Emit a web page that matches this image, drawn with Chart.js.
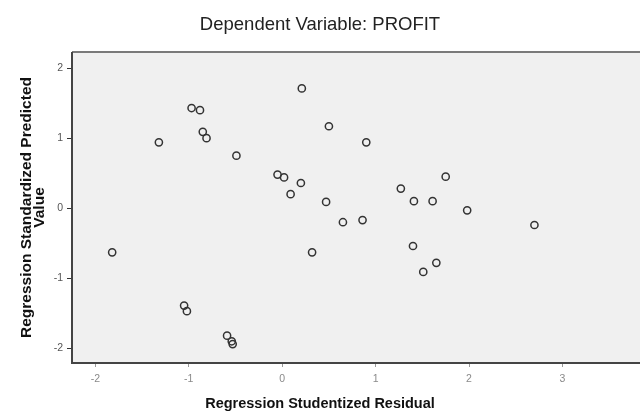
<!DOCTYPE html>
<html>
<head>
<meta charset="utf-8">
<script src="https://cdn.jsdelivr.net/npm/chart.js@4/dist/chart.umd.min.js"></script>
<style>
  html, body { margin: 0; padding: 0; background: #ffffff; }
  #wrap { position: relative; width: 640px; height: 415px; }
</style>
</head>
<body>
<div id="wrap"><canvas id="c" width="640" height="415"></canvas></div>
<script>
// Regression Studentized Residual (x) and Regression Standardized Predicted Value (y)
const residual = [
  0.21, 0.50, -0.97, -0.88, -1.32, -0.85, -0.81, -0.49,
  -0.05, 0.02, 0.20, 0.09, 0.47, 0.90, 1.75, 1.27,
  1.41, 1.61, 1.98, 0.86, 0.65, 2.70, 1.40, 1.65,
  1.51, -1.82, 0.32, -1.05, -1.02, -0.59, -0.54, -0.53
];
const predicted = [
  1.71, 1.17, 1.43, 1.40, 0.94, 1.09, 1.00, 0.75,
  0.48, 0.44, 0.36, 0.20, 0.09, 0.94, 0.45, 0.28,
  0.10, 0.10, -0.03, -0.17, -0.20, -0.24, -0.54, -0.78,
  -0.91, -0.63, -0.63, -1.39, -1.47, -1.82, -1.90, -1.94
];
const xTicks = [-2, -1, 0, 1, 2, 3];
const yTicks = [-2, -1, 0, 1, 2];
const chartTitle = 'Dependent Variable: PROFIT';
const xTitle = 'Regression Studentized Residual';
const yTitle = ['Regression Standardized Predicted', 'Value'];

const points = residual.map((x, i) => ({ x: x, y: predicted[i] }));

const plotFrame = {
  id: 'plotFrame',
  beforeDatasetsDraw(chart) {
    const { ctx, chartArea: a } = chart;
    ctx.save();
    ctx.fillStyle = '#f0f0f0';
    ctx.fillRect(a.left, a.top, a.right - a.left, a.bottom - a.top);
    ctx.strokeStyle = '#7a7a7a';
    ctx.lineWidth = 2;
    ctx.beginPath();
    ctx.moveTo(a.left, a.top);
    ctx.lineTo(a.right, a.top);
    ctx.stroke();
    ctx.strokeStyle = '#444444';
    ctx.beginPath();
    ctx.moveTo(a.left, a.top);
    ctx.lineTo(a.left, a.bottom);
    ctx.lineTo(a.right, a.bottom);
    ctx.stroke();
    ctx.restore();
  }
};

new Chart(document.getElementById('c'), {
  type: 'scatter',
  data: {
    datasets: [{
      data: points,
      pointStyle: 'circle',
      pointRadius: 3.6,
      pointHoverRadius: 3.6,
      pointBorderWidth: 1.5,
      pointBorderColor: '#333333',
      pointBackgroundColor: 'rgba(0,0,0,0)'
    }]
  },
  options: {
    responsive: false,
    animation: false,
    devicePixelRatio: 1,
    layout: { autoPadding: false, padding: { left: 0, right: 0, top: 0, bottom: 0 } },
    plugins: {
      legend: { display: false },
      tooltip: { enabled: false },
      title: {
        display: true,
        text: chartTitle,
        color: '#222222',
        font: { family: 'Liberation Sans', size: 18.5, weight: 'normal', lineHeight: 1.2 },
        padding: { top: 14, bottom: 15.8 }
      },
      subtitle: {
        display: true,
        position: 'bottom',
        text: xTitle,
        color: '#111111',
        font: { family: 'Liberation Sans', size: 14.5, weight: 'bold', lineHeight: 1.2 },
        padding: { top: 8.6, bottom: 2 }
      }
    },
    scales: {
      x: {
        type: 'linear',
        min: -2.25,
        max: 3.83,
        afterFit(scale) { scale.height = 24; },
        afterBuildTicks(scale) { scale.ticks = xTicks.map(v => ({ value: v })); },
        grid: { display: true, drawOnChartArea: false, drawTicks: true, tickLength: 4, color: '#999999', lineWidth: 1 },
        border: { display: false },
        ticks: {
          color: '#8a8a8a',
          padding: 6,
          font: { family: 'Liberation Sans', size: 10.5 },
          maxRotation: 0,
          autoSkip: false
        },
        title: { display: false }
      },
      y: {
        type: 'linear',
        min: -2.21,
        max: 2.23,
        afterFit(scale) { scale.width = 72; },
        afterBuildTicks(scale) { scale.ticks = yTicks.map(v => ({ value: v })); },
        grid: { display: true, drawOnChartArea: false, drawTicks: true, tickLength: 5, color: '#333333', lineWidth: 1 },
        border: { display: false },
        ticks: {
          color: '#555555',
          padding: 4,
          font: { family: 'Liberation Sans', size: 10.5 },
          autoSkip: false
        },
        title: {
          display: true,
          text: yTitle,
          color: '#111111',
          font: { family: 'Liberation Sans', size: 15.5, weight: 'bold', lineHeight: 0.82 },
          padding: { top: 20.5, bottom: 0 }
        }
      }
    }
  },
  plugins: [plotFrame]
});
</script>
</body>
</html>
